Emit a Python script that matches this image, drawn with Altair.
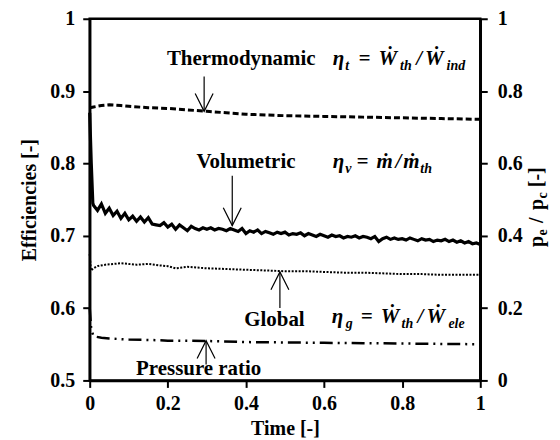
import altair as alt
import pandas as pd

# ---------------- data ----------------
vol_t = [0.0, 0.004, 0.008, 0.01, 0.02, 0.03, 0.04, 0.05, 0.06, 0.07, 0.08, 0.09,
         0.10, 0.11, 0.12, 0.13, 0.14, 0.15, 0.16, 0.17, 0.18, 0.19,
         0.20, 0.21, 0.22, 0.23, 0.24, 0.25, 0.26, 0.27, 0.28, 0.29,
         0.30, 0.31, 0.32, 0.33, 0.34, 0.35, 0.36, 0.37, 0.38, 0.39,
         0.40, 0.41, 0.42, 0.43, 0.44, 0.45, 0.46, 0.47, 0.48, 0.49,
         0.50, 0.51, 0.52, 0.53, 0.54, 0.55, 0.56, 0.57, 0.58, 0.59,
         0.60, 0.61, 0.62, 0.63, 0.64, 0.65, 0.66, 0.67, 0.68, 0.69,
         0.70, 0.71, 0.72, 0.73, 0.74, 0.75, 0.76, 0.77, 0.78, 0.79,
         0.80, 0.81, 0.82, 0.83, 0.84, 0.85, 0.86, 0.87, 0.88, 0.89,
         0.90, 0.91, 0.92, 0.93, 0.94, 0.95, 0.96, 0.97, 0.98, 0.99, 1.00]
vol_v = [0.870, 0.800, 0.745, 0.742, 0.735, 0.744, 0.731, 0.738, 0.728, 0.734, 0.724, 0.731,
         0.722, 0.727, 0.720, 0.726, 0.719, 0.725, 0.716, 0.715, 0.714, 0.718,
         0.712, 0.716, 0.709, 0.715, 0.711, 0.707, 0.713, 0.710, 0.708, 0.711,
         0.709, 0.711, 0.708, 0.710, 0.709, 0.707, 0.710, 0.708, 0.706, 0.710,
         0.703, 0.707, 0.705, 0.708, 0.703, 0.706, 0.704, 0.702, 0.705, 0.703,
         0.705, 0.701, 0.703, 0.702, 0.704, 0.700, 0.703, 0.701, 0.699, 0.702,
         0.700, 0.698, 0.701, 0.699, 0.700, 0.697, 0.699, 0.698, 0.700, 0.697,
         0.699, 0.698, 0.696, 0.699, 0.692, 0.696, 0.698, 0.695, 0.697, 0.695,
         0.696, 0.694, 0.697, 0.695, 0.693, 0.696, 0.694, 0.695, 0.692, 0.694,
         0.693, 0.695, 0.692, 0.694, 0.691, 0.693, 0.690, 0.692, 0.689, 0.690, 0.688]

th_t = [0.0, 0.01, 0.03, 0.05, 0.08, 0.10, 0.15, 0.20, 0.25, 0.30, 0.35, 0.40,
        0.45, 0.50, 0.60, 0.70, 0.80, 0.90, 1.00]
th_v = [0.877, 0.878, 0.880, 0.881, 0.880, 0.879, 0.877, 0.876, 0.874, 0.872, 0.870, 0.868,
        0.867, 0.866, 0.865, 0.864, 0.863, 0.862, 0.861]

gl_t = [0.0, 0.003, 0.01, 0.02, 0.04, 0.06, 0.08, 0.10, 0.12, 0.15, 0.18, 0.20, 0.22,
        0.25, 0.30, 0.35, 0.40, 0.45, 0.50, 0.55, 0.60, 0.65, 0.70, 0.75, 0.80, 0.85,
        0.90, 0.95, 1.00]
gl_v = [0.675, 0.652, 0.655, 0.658, 0.660, 0.661, 0.662, 0.661, 0.660, 0.661, 0.659, 0.658, 0.655,
        0.657, 0.655, 0.654, 0.653, 0.652, 0.651, 0.651, 0.650, 0.649, 0.649, 0.648, 0.647, 0.647,
        0.646, 0.646, 0.646]

pr_t = [0.0, 0.004, 0.01, 0.03, 0.05, 0.10, 0.15, 0.20, 0.30, 0.40, 0.50, 0.60, 0.70,
        0.80, 0.90, 1.00]
pr_p = [0.200, 0.140, 0.122, 0.118, 0.116, 0.113, 0.112, 0.110, 0.109, 0.106, 0.105, 0.104, 0.103,
        0.102, 0.101, 0.100]

x_ticks = [0, 0.2, 0.4, 0.6, 0.8, 1.0]
yl_ticks = [0.5, 0.6, 0.7, 0.8, 0.9, 1.0]
yr_ticks = [0, 0.2, 0.4, 0.6, 0.8, 1.0]

# annotation labels
label_text = ["Thermodynamic", "Volumetric", "Global", "Pressure ratio"]
label_t = [0.388, 0.400, 0.473, 0.279]
label_v = [0.9354, 0.794, 0.5755, 0.508]

# arrows (stem start, tip on the curve)
arrow_t = [0.293, 0.365, 0.487, 0.298]
arrow_from = [0.920, 0.783, 0.600, 0.522]
arrow_tip = [0.872, 0.714, 0.650, 0.555]
arrow_dir = ["down", "down", "up", "up"]

# formulas: anchor (t, v) and pieces (text, dx, subscript?)
eq_anchor_t = [0.622, 0.622, 0.620]
eq_anchor_v = [0.936, 0.794, 0.580]
eq_pieces = [
    [("η", 0, 0), ("t", 12.7, 1), ("=", 26, 0), ("Ẇ", 46, 0), ("th", 67.7, 1),
     ("/", 84, 0), ("Ẇ", 92.7, 0), ("ind", 114.3, 1)],
    [("η", 0, 0), ("v", 12.7, 1), ("=", 24, 0), ("ṁ", 44, 0), ("/", 63, 0),
     ("ṁ", 71, 0), ("th", 88, 1)],
    [("η", 0, 0), ("g", 14, 1), ("=", 29, 0), ("Ẇ", 49, 0), ("th", 70, 1),
     ("/", 86, 0), ("Ẇ", 95, 0), ("ele", 117, 1)],
]

# right axis title pieces (text, dx, subscript?)
rtitle_pieces = [("p", 0, 0), ("e", 11.5, 1), ("/", 24, 0), ("p", 37, 0),
                 ("c", 48.5, 1), ("[-]", 60, 0)]

# ---------------- chart ----------------
W, H = 392, 363
SERIF = "Liberation Serif, Times New Roman, serif"
MATH = "Liberation Serif, Times New Roman, serif"

xs = alt.Scale(domain=[0, 1], nice=False, zero=False)
ys = alt.Scale(domain=[0.5, 1], nice=False, zero=False)
ps = alt.Scale(domain=[0, 1], nice=False)

common_axis = dict(grid=False, domainColor="black", domainWidth=2.5, tickColor="black",
                   tickWidth=2, tickSize=7, labelFont=SERIF, labelFontWeight="bold",
                   labelFontSize=20, labelColor="black", titleFont=SERIF,
                   titleFontWeight="bold", titleFontSize=20, titleColor="black",
                   labelFlush=False, labelOverlap=False, format=".1~f")

x_axis = alt.Axis(values=x_ticks, title="Time [-]", labelPadding=6, titlePadding=5, **common_axis)
yl_axis = alt.Axis(values=yl_ticks, title="Efficiencies [-]", labelPadding=8, titlePadding=10,
                   **common_axis)
yr_axis = alt.Axis(values=yr_ticks, title=None, orient="right", labelPadding=10, **common_axis)

X0 = alt.X("t:Q", scale=xs, axis=x_axis)
Y0 = alt.Y("v:Q", scale=ys, axis=yl_axis)

df_vol = pd.DataFrame({"t": vol_t, "v": vol_v})
df_th = pd.DataFrame({"t": th_t, "v": th_v})
df_gl = pd.DataFrame({"t": gl_t, "v": gl_v})
df_pr = pd.DataFrame({"t": pr_t, "p": pr_p})

vol = alt.Chart(df_vol).mark_line(color="black", strokeWidth=3.2).encode(x=X0, y=Y0)
th = alt.Chart(df_th).mark_line(color="black", strokeWidth=3, strokeDash=[6, 3]).encode(x=X0, y=Y0)
gl = alt.Chart(df_gl).mark_line(color="black", strokeWidth=2, strokeDash=[2, 1.5]).encode(x=X0, y=Y0)

df_lab = pd.DataFrame({"t": label_t, "v": label_v, "s": label_text})
labels = alt.Chart(df_lab).mark_text(font=SERIF, fontWeight="bold", fontSize=21, align="center",
                                     baseline="alphabetic", color="black").encode(x=X0, y=Y0, text="s:N")

df_arr = pd.DataFrame({"t": arrow_t, "v": arrow_from, "v2": arrow_tip, "d": arrow_dir})
stems = alt.Chart(df_arr).mark_rule(color="black", strokeWidth=1.2).encode(x=X0, y=Y0, y2="v2:Q")
Ytip = alt.Y("v2:Q", scale=ys, axis=yl_axis)
head_down = alt.Chart(df_arr[df_arr.d == "down"]).mark_point(
    shape="M-0.5,-1L0,0L0.5,-1", size=1296, filled=False, stroke="black", strokeWidth=1.2,
    opacity=1).encode(x=X0, y=Ytip)
head_up = alt.Chart(df_arr[df_arr.d == "up"]).mark_point(
    shape="M-0.5,1L0,0L0.5,1", size=1296, filled=False, stroke="black", strokeWidth=1.2,
    opacity=1).encode(x=X0, y=Ytip)

left_layers = [vol, th, gl, stems, head_down, head_up, labels]

for at, av, pieces in zip(eq_anchor_t, eq_anchor_v, eq_pieces):
    for txt, dx, sub in pieces:
        d = pd.DataFrame({"t": [at], "v": [av], "s": [txt]})
        left_layers.append(
            alt.Chart(d).mark_text(font=MATH, fontWeight="bold", fontStyle="italic",
                                   fontSize=14 if sub else 21, align="left", baseline="alphabetic",
                                   dx=dx, dy=5 if sub else 0, color="black")
            .encode(x=X0, y=Y0, text="s:N"))

for txt, dx, sub in rtitle_pieces:
    d = pd.DataFrame({"s": [txt]})
    left_layers.append(
        alt.Chart(d).mark_text(font=SERIF, fontWeight="bold", fontSize=14 if sub else 20,
                               align="left", baseline="alphabetic", angle=270, dx=dx,
                               dy=4 if sub else 0, color="black")
        .encode(x=alt.value(W + 63), y=alt.value(229), text="s:N"))

left = alt.layer(*left_layers)

right = alt.Chart(df_pr).mark_line(color="black", strokeWidth=2.5,
                                   strokeDash=[13, 5, 2, 5, 2, 5]).encode(
    x=X0, y=alt.Y("p:Q", scale=ps, axis=yr_axis))

chart = alt.layer(left, right).resolve_scale(y="independent").properties(
    width=W, height=H,
    autosize=alt.AutoSizeParams(type="none"),
    padding={"left": 82, "top": 10, "right": 72, "bottom": 58},
).configure_view(stroke="black", strokeWidth=2.5)

chart.save("out.html", embed_options={"renderer": "svg", "actions": False})
